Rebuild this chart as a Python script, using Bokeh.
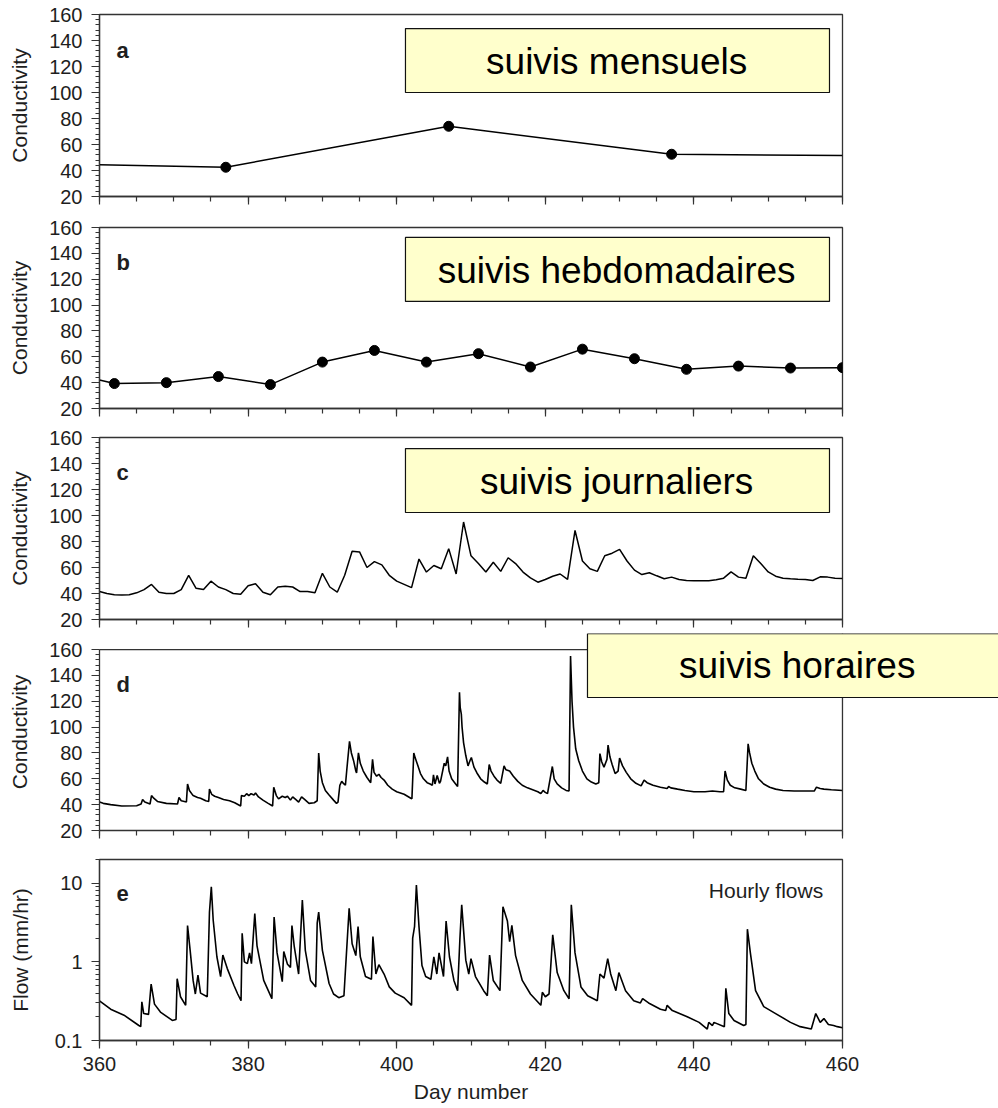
from bokeh.plotting import figure
from bokeh.layouts import column
from bokeh.models import (Range1d, SingleIntervalTicker, FixedTicker, Label,
                          BoxAnnotation, Span, CustomJSTickFormatter)
from bokeh.embed import file_html
from bokeh.resources import INLINE

# ---------------- data ----------------
monthly_days = [360, 377, 407, 437, 460]
monthly_cond = [44.5, 42.5, 74.0, 52.5, 51.5]
monthly_sampled = [False, True, True, True, False]

weekly_days = [360, 362, 369, 376, 383, 390, 397, 404, 411, 418, 425, 432, 439, 446, 453, 460]
weekly_cond = [42.0, 39.3, 40.0, 44.7, 38.5, 55.9, 64.9, 55.9, 62.4, 52.1, 65.9, 58.5, 50.3, 52.8, 51.3, 51.6]
weekly_sampled = [False] + [True] * 15

daily_days = list(range(360, 461))
daily_cond = [41.5, 40, 39, 38.8, 39, 40.5, 43, 47, 41, 40,
              40, 43, 54, 44, 43, 49.5, 45, 43, 40, 39.5,
              46, 47.5, 41, 39, 45, 45.5, 45, 41.5, 41.5, 40.5,
              55.5, 45, 41, 54, 72.5, 72, 60, 64.5, 62, 54,
              49.5, 47, 44.5, 66.5, 56.5, 61.5, 59, 74.5, 55, 95,
              69, 63, 56.5, 64, 57, 67.5, 63, 56.5, 52, 48.7,
              50.8, 53.3, 55, 50.8, 88.5, 65, 59, 57, 69, 71,
              74, 65, 58, 54.6, 56, 53.6, 51.3, 52.6, 50.8, 50,
              49.8, 49.8, 49.8, 50.5, 51.8, 56.6, 52.6, 51.8, 69, 63,
              56.6, 53.3, 51.8, 51.3, 51, 50.8, 50, 52.8, 52.6, 51.8,
              51.5]

hourly_days = [360.0, 360.5, 361.5, 363.0, 365.0, 365.6, 365.8, 366.1, 366.8, 367.0,
               367.3, 367.8, 369.0, 370.5, 370.7, 371.0, 371.7, 371.85, 372.1, 372.6,
               373.2, 373.6, 374.3, 374.7, 374.8, 375.1, 375.5, 376.0, 376.7, 377.5,
               378.2, 379.0, 379.1, 379.5, 379.8, 380.1, 380.4, 380.8, 381.0, 381.4,
               382.0, 382.7, 383.3, 383.45, 383.8, 384.1, 384.6, 385.0, 385.3, 385.7,
               386.0, 386.4, 386.8, 387.2, 387.6, 388.2, 388.9, 389.3, 389.5, 389.7,
               390.0, 390.4, 390.9, 391.5, 391.9, 392.1, 392.35, 392.6, 392.9, 393.1,
               393.3, 393.65, 393.9, 394.2, 394.5, 394.6, 394.85, 395.1, 395.5, 396.0,
               396.5, 396.75, 396.95, 397.3, 397.6, 397.9, 398.3, 398.8, 399.4, 400.0,
               401.0, 401.9, 402.05, 402.3, 402.5, 402.8, 403.2, 403.6, 404.1, 404.5,
               404.8, 404.95, 405.15, 405.45, 405.75, 405.9, 406.4, 406.6, 406.85, 407.05,
               407.4, 407.8, 408.2, 408.45, 408.55, 408.7, 408.8, 409.0, 409.3, 409.6,
               409.9, 410.05, 410.4, 410.8, 411.3, 411.8, 412.2, 412.45, 412.7, 413.1,
               413.5, 414.0, 414.45, 414.7, 415.2, 415.7, 416.3, 416.9, 417.6, 418.3,
               419.0, 419.4, 419.7, 420.0, 420.3, 420.95, 421.2, 421.6, 422.2, 422.8,
               423.2, 423.4, 423.6, 423.8, 424.1, 424.5, 425.0, 425.6, 426.2, 426.8,
               427.2, 427.35, 427.6, 427.9, 428.3, 428.45, 428.7, 429.0, 429.4, 429.8,
               430.0, 430.4, 430.9, 431.5, 432.2, 432.9, 433.3, 433.7, 434.5, 435.5,
               436.4, 436.6, 436.9, 437.8, 438.8, 440.0, 441.5, 442.5, 443.5, 444.0,
               444.2, 444.5, 444.9, 445.5, 446.3, 447.0, 447.3, 447.5, 447.8, 448.2,
               448.7, 449.4, 450.2, 451.0, 452.0, 453.5, 455.0, 456.2, 456.5, 457.0,
               457.5, 458.5, 460.0]
hourly_cond = [42, 41, 40, 39, 39.2, 40.5, 44, 42, 40.5, 47,
               45, 42.5, 41, 40.5, 45.5, 43, 42, 56, 51, 47,
               45.5, 45, 43, 42.5, 52, 48, 46.5, 45.5, 44, 43,
               41.5, 39, 47, 46.5, 48.5, 47, 48.5, 47.5, 49, 46,
               43.5, 41, 39, 53.5, 47, 44.5, 46.5, 45.5, 46.5, 43.5,
               46, 44, 42, 46, 44, 41, 41.5, 43, 80, 66,
               57, 51, 47.5, 43.5, 41, 42, 55, 58, 56, 55,
               68, 89, 80, 74, 66, 64.5, 80, 72, 66, 61,
               57, 75, 65, 62, 63.5, 61, 59, 55, 52, 50,
               48, 45, 44.5, 80, 76, 71, 64, 60, 57, 56,
               55, 63, 56, 62.5, 56.5, 58, 72, 70, 77, 66,
               60, 57, 54, 127, 115, 110, 100, 88, 78, 70,
               74.5, 76.5, 69, 64.5, 60, 57.5, 56, 71, 66, 62,
               59, 56.5, 70, 67, 66, 62, 58, 55, 53, 51.5,
               50, 48.5, 51, 49.5, 48.5, 69.5, 60, 56, 53, 51,
               50.5, 155, 120, 100, 83, 74, 66, 60, 57.5, 56,
               57, 79.5, 73, 69, 75, 86, 77, 71, 64, 66,
               76, 70, 65, 60, 56.5, 54.5, 59, 57, 55, 53.5,
               52.5, 54, 53, 52, 51, 50, 50, 50.5, 50, 50,
               66, 59, 55, 53, 52, 51, 87, 80, 72, 66,
               60, 56, 53.5, 52, 51, 50.5, 50.5, 50.5, 53.5, 52.5,
               52, 51.5, 51]

flow_days = [360.0, 361.5, 363.3, 365.3, 365.55, 365.7, 365.95, 366.6, 366.95, 367.4,
             368.2, 369.8, 370.3, 370.45, 370.9, 371.6, 371.85, 372.2, 372.6, 372.9,
             373.25, 373.6, 374.5, 374.8, 375.05, 375.3, 375.8, 376.3, 376.6, 377.2,
             378.1, 378.6, 379.05, 379.2, 379.5, 379.9, 380.2, 380.45, 380.9, 381.2,
             382.1, 383.2, 383.5, 383.9, 384.6, 384.8, 385.3, 385.7, 385.9, 386.2,
             386.8, 387.3, 387.7, 388.4, 389.1, 389.3, 389.5, 390.0, 390.9, 391.5,
             392.2, 392.9, 393.1, 393.6, 394.0, 394.5, 394.8, 395.1, 395.8, 396.6,
             396.8, 397.2, 397.6, 398.3, 399.0, 399.8, 401.0, 402.0, 402.15, 402.4,
             402.65, 403.0, 403.4, 403.9, 404.6, 405.0, 405.4, 405.7, 406.3, 406.65,
             407.1, 407.7, 408.2, 408.5, 408.75, 409.3, 409.7, 410.0, 410.6, 411.7,
             412.2, 412.5, 413.0, 413.9, 414.3, 414.9, 415.2, 415.5, 416.0, 416.9,
             418.0, 419.4, 419.6, 420.0, 420.5, 421.0, 421.6, 422.5, 423.2, 423.5,
             424.0, 424.8, 425.7, 427.0, 427.35, 427.9, 428.4, 428.8, 429.5, 429.9,
             430.8, 431.9, 432.8, 433.1, 433.9, 435.5, 436.2, 436.4, 437.1, 439.1,
             440.7, 441.8, 442.0, 442.5, 442.7, 444.1, 444.3, 444.7, 445.4, 446.7,
             447.0, 447.2, 447.6, 448.3, 449.4, 451.0, 453.0, 454.3, 455.8, 456.4,
             457.0, 457.5, 458.1, 458.8, 459.3, 460.0]
flow_vals = [0.32, 0.25, 0.21, 0.155, 0.15, 0.31, 0.22, 0.215, 0.52, 0.29,
             0.23, 0.18, 0.185, 0.61, 0.36, 0.28, 2.9, 1.4, 0.58, 0.39,
             0.68, 0.4, 0.36, 4.3, 9.0, 3.4, 1.16, 0.65, 1.22, 0.82,
             0.5, 0.39, 0.32, 2.3, 1.0, 0.95, 1.3, 0.95, 4.1, 1.6,
             0.58, 0.34, 3.7, 1.3, 0.56, 1.35, 0.93, 0.85, 2.9, 1.6,
             0.7, 6.1, 1.4, 0.58, 0.48, 3.1, 4.3, 1.4, 0.53, 0.39,
             0.35, 0.37, 0.78, 4.8, 1.7, 1.2, 2.8, 1.16, 0.65, 0.6,
             2.1, 0.7, 0.92, 0.7, 0.48, 0.4, 0.35, 0.28, 2.0, 2.8,
             9.5, 2.8, 0.9, 0.65, 0.6, 1.16, 0.7, 1.3, 0.65, 3.3,
             1.16, 0.58, 0.43, 1.9, 5.3, 1.05, 0.7, 1.1, 0.65, 0.43,
             0.37, 1.22, 0.58, 0.43, 5.0, 3.3, 1.8, 2.9, 1.2, 0.58,
             0.39, 0.28, 0.41, 0.36, 0.39, 2.2, 0.73, 0.43, 0.34, 5.3,
             1.3, 0.48, 0.37, 0.32, 0.7, 0.62, 1.1, 0.7, 0.43, 0.73,
             0.43, 0.32, 0.3, 0.34, 0.3, 0.25, 0.24, 0.28, 0.24, 0.2,
             0.17, 0.14, 0.17, 0.155, 0.17, 0.15, 0.46, 0.22, 0.18, 0.155,
             0.16, 2.6, 1.3, 0.43, 0.27, 0.22, 0.17, 0.15, 0.14, 0.22,
             0.17, 0.19, 0.16, 0.155, 0.15, 0.145]

panel_letters = ["a", "b", "c", "d", "e"]
box_texts = ["suivis mensuels", "suivis hebdomadaires", "suivis journaliers", "suivis horaires"]

# ---------------- style ----------------
FONT = "Liberation Sans"
TXT = "#1e1e1e"
AX = "#333333"
TICK_FS = "20px"
LAB_FS = "21px"
X0, X1 = 360, 460
Y0, Y1 = 20, 160


def base_fig(height, top, bottom, log=False, right=156, x_end=X1, y_end=None):
    kw = dict(width=998, height=height, output_backend="svg", toolbar_location=None,
              x_range=Range1d(X0, x_end), frame_align=False, min_border=0,
              min_border_left=99, min_border_right=right,
              min_border_top=top, min_border_bottom=bottom)
    if log:
        kw["y_axis_type"] = "log"
        kw["y_range"] = Range1d(0.1, 20)
    else:
        kw["y_range"] = Range1d(Y0, y_end if y_end else Y1)
    p = figure(**kw)
    p.grid.visible = False
    p.outline_line_color = AX
    p.outline_line_width = 1.3
    p.background_fill_color = "white"
    p.border_fill_color = "white"

    xa = p.xaxis[0]
    xa.ticker = SingleIntervalTicker(interval=20, num_minor_ticks=4)
    xa.bounds = (X0, X1)
    xa.major_tick_in = 0
    xa.major_tick_out = 8
    xa.minor_tick_in = 0
    xa.minor_tick_out = 5
    xa.axis_line_color = AX
    xa.axis_line_width = 1.3
    xa.major_tick_line_color = AX
    xa.minor_tick_line_color = AX
    xa.major_tick_line_width = 1.2
    xa.minor_tick_line_width = 1.2
    # unlabelled x axis (only the bottom panel shows tick labels)
    xa.major_label_text_font_size = "1px"
    xa.major_label_text_color = None
    xa.major_label_standoff = 0

    ya = p.yaxis[0]
    if log:
        ya.ticker = FixedTicker(ticks=[0.1, 1, 10],
                                minor_ticks=[0.2, 0.3, 0.4, 0.5, 0.6, 0.7, 0.8, 0.9,
                                             2, 3, 4, 5, 6, 7, 8, 9, 20])
        ya.formatter = CustomJSTickFormatter(code="return tick.toString();")
    else:
        ya.ticker = SingleIntervalTicker(interval=20, num_minor_ticks=5)
        ya.bounds = (Y0, Y1)
    ya.major_tick_in = 0
    ya.major_tick_out = 8
    ya.minor_tick_in = 0
    ya.minor_tick_out = 4
    ya.axis_line_color = AX
    ya.axis_line_width = 1.3
    ya.major_tick_line_color = AX
    ya.minor_tick_line_color = AX
    ya.major_tick_line_width = 1.2
    ya.minor_tick_line_width = 1.0
    ya.major_label_text_font = FONT
    ya.major_label_text_font_size = TICK_FS
    ya.major_label_text_color = TXT
    ya.major_label_standoff = 9
    ya.axis_label_text_font = FONT
    ya.axis_label_text_font_size = LAB_FS
    ya.axis_label_text_font_style = "normal"
    ya.axis_label_text_color = TXT
    ya.axis_label_standoff = 20 if log else 15
    ya.axis_label = "Flow (mm/hr)" if log else "Conductivity"
    return p


def letter(p, txt, y):
    p.add_layout(Label(x=362.3, y=y, text=txt, text_font=FONT, text_font_size="22px",
                       text_font_style="bold", text_color=TXT, text_align="left",
                       text_baseline="alphabetic"))


def ybox(p, left, right, bottom, top, txt, tx, ty):
    p.add_layout(BoxAnnotation(left=left, right=right, bottom=bottom, top=top,
                               fill_color="#FFFFCC", fill_alpha=1.0,
                               line_color="#111111", line_width=1.2, line_alpha=1.0))
    p.add_layout(Label(x=tx, y=ty, text=txt, text_font=FONT, text_font_size="37px",
                       text_color="#000000", text_align="center", text_baseline="middle"))


# ---------------- panel a ----------------
pa = base_fig(212, 14, 16)
pa.line(monthly_days, monthly_cond, line_color="black", line_width=1.5)
pa.scatter([d for d, s in zip(monthly_days, monthly_sampled) if s],
           [v for v, s in zip(monthly_cond, monthly_sampled) if s],
           size=10, color="black")
letter(pa, panel_letters[0], 132.5)
ybox(pa, 401.18, 458.25, 100.0, 149.2, box_texts[0], 429.6, 124.0)

# ---------------- panel b ----------------
pb = base_fig(211, 15, 15)
pb.line(weekly_days, weekly_cond, line_color="black", line_width=1.5)
pb.scatter([d for d, s in zip(weekly_days, weekly_sampled) if s],
           [v for v, s in zip(weekly_cond, weekly_sampled) if s],
           size=10, color="black")
letter(pb, panel_letters[1], 133)
ybox(pb, 401.18, 458.25, 102.8, 152.3, box_texts[1], 429.6, 127.0)

# ---------------- panel c ----------------
pc = base_fig(210, 14, 14)
pc.line(daily_days, daily_cond, line_color="black", line_width=1.5)
letter(pc, panel_letters[2], 133)
ybox(pc, 401.18, 458.25, 102.3, 151.5, box_texts[2], 429.6, 126.5)

# ---------------- panel d ----------------
# The frame of this panel reaches the right edge of the page and 16 px above
# the 160 line so that the label box can overhang the axes box, as in the
# original slide; the visible axes box is drawn by the axes and two spans.
pd_ = base_fig(211, 0, 14, right=0, x_end=481.0, y_end=172.4)
pd_.outline_line_color = None
pd_.add_layout(Span(location=Y1, dimension="width", line_color=AX, line_width=1.3))
pd_.add_layout(Span(location=X1, dimension="height", line_color=AX, line_width=1.3))
pd_.line(hourly_days, hourly_cond, line_color="black", line_width=1.6)
letter(pd_, panel_letters[3], 133)
ybox(pd_, 425.68, 482.0, 122.9, 172.3, box_texts[3], 453.9, 147.6)

# ---------------- panel e ----------------
pe = base_fig(264, 15, 68, log=True)
pe.line(flow_days, flow_vals, line_color="black", line_width=1.6)
xa = pe.xaxis[0]
xa.major_label_text_font = FONT
xa.major_label_text_font_size = TICK_FS
xa.major_label_text_color = TXT
xa.major_label_standoff = 8
xa.axis_label = "Day number"
xa.axis_label_text_font = FONT
xa.axis_label_text_font_size = LAB_FS
xa.axis_label_text_font_style = "normal"
xa.axis_label_text_color = TXT
xa.axis_label_standoff = 6
letter(pe, panel_letters[4], 7.4)
pe.add_layout(Label(x=457.4, y=8.1, text="Hourly flows", text_font=FONT,
                    text_font_size="21px", text_color=TXT, text_align="right",
                    text_baseline="alphabetic"))

layout = column(pa, pb, pc, pd_, pe, spacing=0)
open("out.html", "w").write(file_html(layout, INLINE))
